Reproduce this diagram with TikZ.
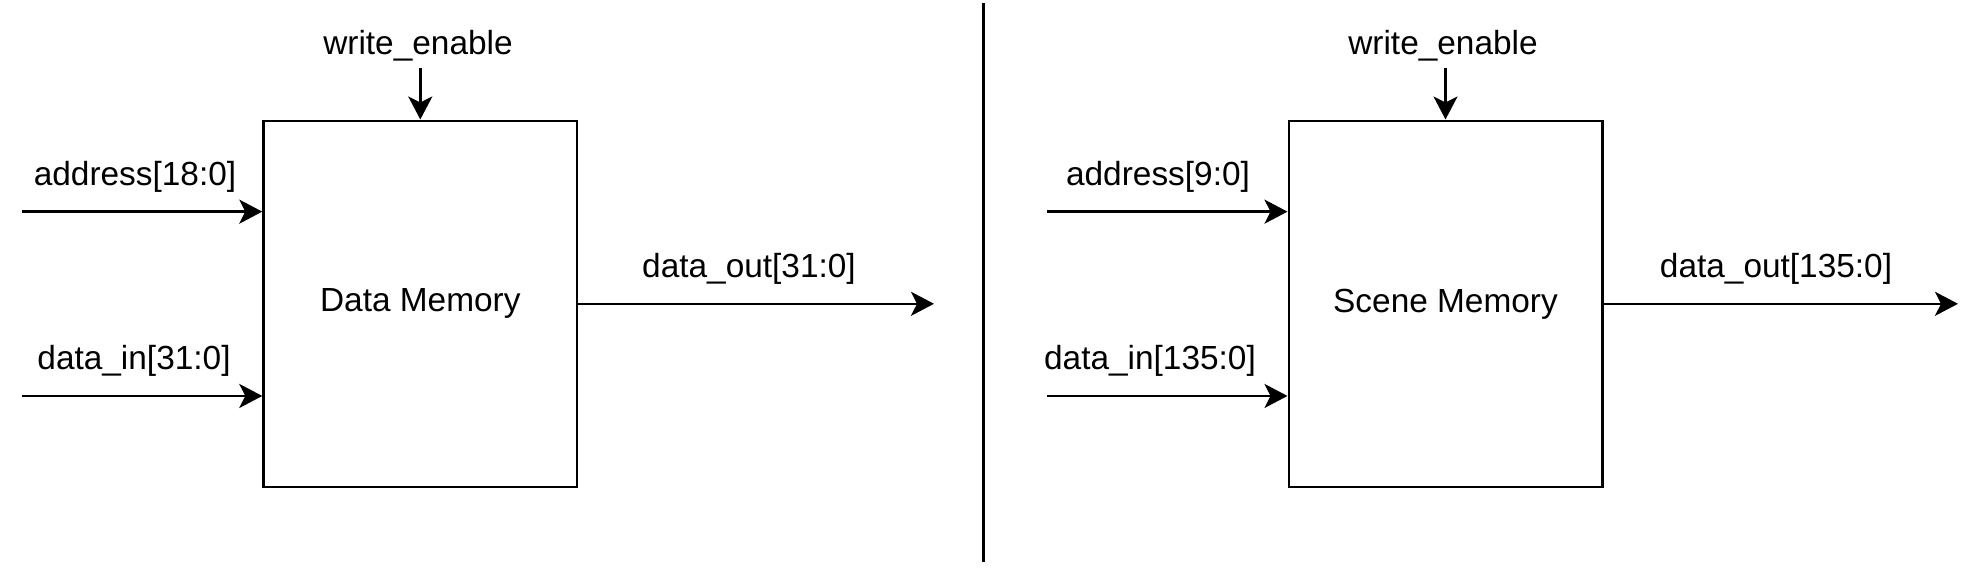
\documentclass[tikz,border=0pt]{standalone}
\usepackage{fontspec}
\setmainfont{Liberation Sans}
\usetikzlibrary{arrows.meta,calc}
\begin{document}
\begin{tikzpicture}[x=0.5pt,y=-0.5pt,
  membox/.style={draw,line width=1.3pt,minimum width=156.7pt,minimum height=183pt,inner sep=0pt,font=\fontsize{16.7}{20}\selectfont},
  lbl/.style={anchor=base,inner sep=0pt,font=\fontsize{16.7}{20}\selectfont},
  sig/.style={line width=1.3pt,-{Stealth[length=11.5pt,width=12pt,inset=3pt]}}]
\useasboundingbox (0,0) rectangle (1982,568);
% left
\node[membox] (dm) at (420.3,303.8) {Data Memory};
\coordinate (dmA) at ($(dm.north west)!0.25!(dm.south west)$);
\coordinate (dmD) at ($(dm.north west)!0.75!(dm.south west)$);
\coordinate (a1) at (21.5,0);
\coordinate (d1) at (21.5,0);
\coordinate (w1) at (420.3,68);
\coordinate (o1) at (934,0);
\draw[sig] (a1 |- dmA) -- (dmA);
\draw[sig] (d1 |- dmD) -- (dmD);
\draw[sig] (w1) -- (dm.north);
\draw[sig] (dm.east) -- (o1 |- dm.east);
\node[lbl] (la1) at (135,185.5) {address[18:0]};
\node[lbl] (ld1) at (134,369) {data\_in[31:0]};
\node[lbl] (lo1) at (749,277) {data\_out[31:0]};
\node[lbl] (lw1) at (418,54.5) {write\_enable};
% divider
\coordinate (t) at (983.5,3);
\coordinate (b) at (983.5,562);
\draw[line width=1.2pt] (t) -- (b);
% right
\node[membox] (sm) at (1445.5,303.8) {Scene Memory};
\coordinate (smA) at ($(sm.north west)!0.25!(sm.south west)$);
\coordinate (smD) at ($(sm.north west)!0.75!(sm.south west)$);
\coordinate (a2) at (1047,0);
\coordinate (d2) at (1047,0);
\coordinate (w2) at (1445.5,68);
\coordinate (o2) at (1958,0);
\draw[sig] (a2 |- smA) -- (smA);
\draw[sig] (d2 |- smD) -- (smD);
\draw[sig] (w2) -- (sm.north);
\draw[sig] (sm.east) -- (o2 |- sm.east);
\node[lbl] (la2) at (1158,185.5) {address[9:0]};
\node[lbl] (ld2) at (1150,369) {data\_in[135:0]};
\node[lbl] (lo2) at (1776,277) {data\_out[135:0]};
\node[lbl] (lw2) at (1443,54.5) {write\_enable};
\end{tikzpicture}
\end{document}
